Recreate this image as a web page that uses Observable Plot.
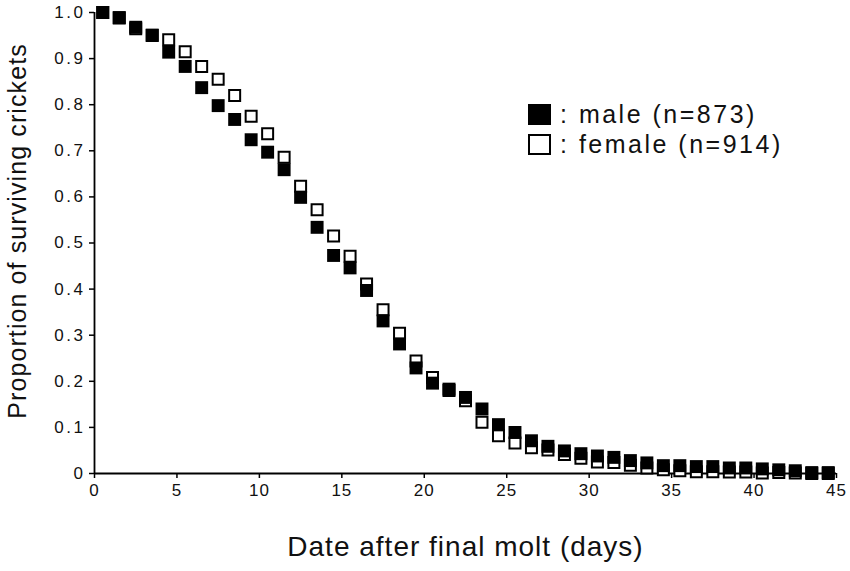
<!DOCTYPE html>
<html>
<head>
<meta charset="utf-8">
<script src="https://cdn.jsdelivr.net/npm/d3@7"></script>
<script src="https://cdn.jsdelivr.net/npm/@observablehq/plot@0.6"></script>
<style>
  html, body { margin: 0; padding: 0; background: #fff; }
  #wrap { position: relative; width: 850px; height: 571px; font-family: Arial, "Liberation Sans", sans-serif; }
  .legend { position: absolute; left: 528px; font-size: 25px; letter-spacing: 2.5px; color: #111; display: flex; align-items: center; line-height: 1; }
  .sw { display: inline-block; width: 23px; height: 21px; box-sizing: border-box; margin-right: 9px; }
  #chart svg .ylab text { letter-spacing: 2.5px; }
  #chart svg .xlab text { letter-spacing: 1px; }
  #chart svg .xtitle text { letter-spacing: 1px; }
  #chart svg .ytitle text { letter-spacing: 1.1px; }
</style>
</head>
<body>
<div id="wrap">
  <div id="chart"></div>
  <div class="legend" style="top:102px"><span class="sw" style="background:#000"></span>: male (n=873)</div>
  <div class="legend" style="top:132px"><span class="sw" style="background:#fff;border:2px solid #000"></span>: female (n=914)</div>
</div>
<script>
const days = [0.5,1.5,2.5,3.5,4.5,5.5,6.5,7.5,8.5,9.5,10.5,11.5,12.5,13.5,14.5,15.5,16.5,17.5,18.5,19.5,20.5,21.5,22.5,23.5,24.5,25.5,26.5,27.5,28.5,29.5,30.5,31.5,32.5,33.5,34.5,35.5,36.5,37.5,38.5,39.5,40.5,41.5,42.5,43.5,44.5];
const male = [1.00,0.989,0.968,0.951,0.914,0.883,0.837,0.798,0.768,0.724,0.697,0.659,0.599,0.534,0.473,0.446,0.397,0.331,0.281,0.229,0.196,0.183,0.165,0.140,0.106,0.089,0.071,0.059,0.049,0.043,0.038,0.035,0.028,0.023,0.017,0.017,0.015,0.015,0.012,0.012,0.010,0.008,0.006,0.002,0.002];
const female = [1.00,0.988,0.965,0.950,0.941,0.915,0.883,0.855,0.820,0.775,0.737,0.686,0.623,0.572,0.515,0.471,0.411,0.355,0.304,0.244,0.208,0.180,0.158,0.111,0.082,0.066,0.056,0.051,0.041,0.033,0.025,0.024,0.018,0.012,0.008,0.006,0.004,0.004,0.003,0.003,0.001,0.002,0.001,0.000,0.000];
const xTicks = [0,5,10,15,20,25,30,35,40,45];
const yTicks = [0,0.1,0.2,0.3,0.4,0.5,0.6,0.7,0.8,0.9,1.0];
const xLabel = "Date after final molt (days)";
const yLabel = "Proportion of surviving crickets";

const maleData = days.map((d, i) => ({day: d, p: male[i]}));
const femaleData = days.map((d, i) => ({day: d, p: female[i]}));

const chart = Plot.plot({
  width: 850,
  height: 571,
  marginLeft: 94,
  marginRight: 14,
  marginTop: 12,
  marginBottom: 98,
  style: {fontFamily: "Arial, 'Liberation Sans', sans-serif", fontSize: "16px", color: "#111", background: "#fff"},
  x: {domain: [0, 45], ticks: xTicks, tickFormat: d => String(d), label: null},
  y: {domain: [0, 1], ticks: yTicks, tickFormat: d => d === 0 ? "0" : d.toFixed(1), label: null},
  marks: [
    Plot.axisX({ticks: xTicks, tickSize: 5, tickPadding: 5, tickFormat: d => String(d), fontSize: 17, stroke: "#000", strokeWidth: 1.5, label: null, className: "xlab"}),
    Plot.axisY({ticks: yTicks, tickSize: 5, tickPadding: 4, tickFormat: d => d === 0 ? "0" : d.toFixed(1), fontSize: 17, stroke: "#000", strokeWidth: 1.5, label: null, className: "ylab"}),
    Plot.ruleY([0], {stroke: "#000", strokeWidth: 1.8}),
    Plot.ruleX([0], {stroke: "#000", strokeWidth: 1.8}),
    Plot.dot(femaleData, {x: "day", y: "p", symbol: "square", r: 6.2, fill: "#fff", stroke: "#000", strokeWidth: 2}),
    Plot.dot(maleData, {x: "day", y: "p", symbol: "square", r: 7.3, fill: "#000", stroke: "none"}),
    Plot.text([xLabel], {frameAnchor: "bottom", dy: 82, fontSize: 28, fill: "#111", text: d => d, className: "xtitle"}),
    Plot.text([yLabel], {frameAnchor: "left", textAnchor: "middle", dx: -77, dy: -12, rotate: -90, fontSize: 25, fill: "#111", text: d => d, className: "ytitle"})
  ]
});
document.getElementById("chart").appendChild(chart);
</script>
</body>
</html>
